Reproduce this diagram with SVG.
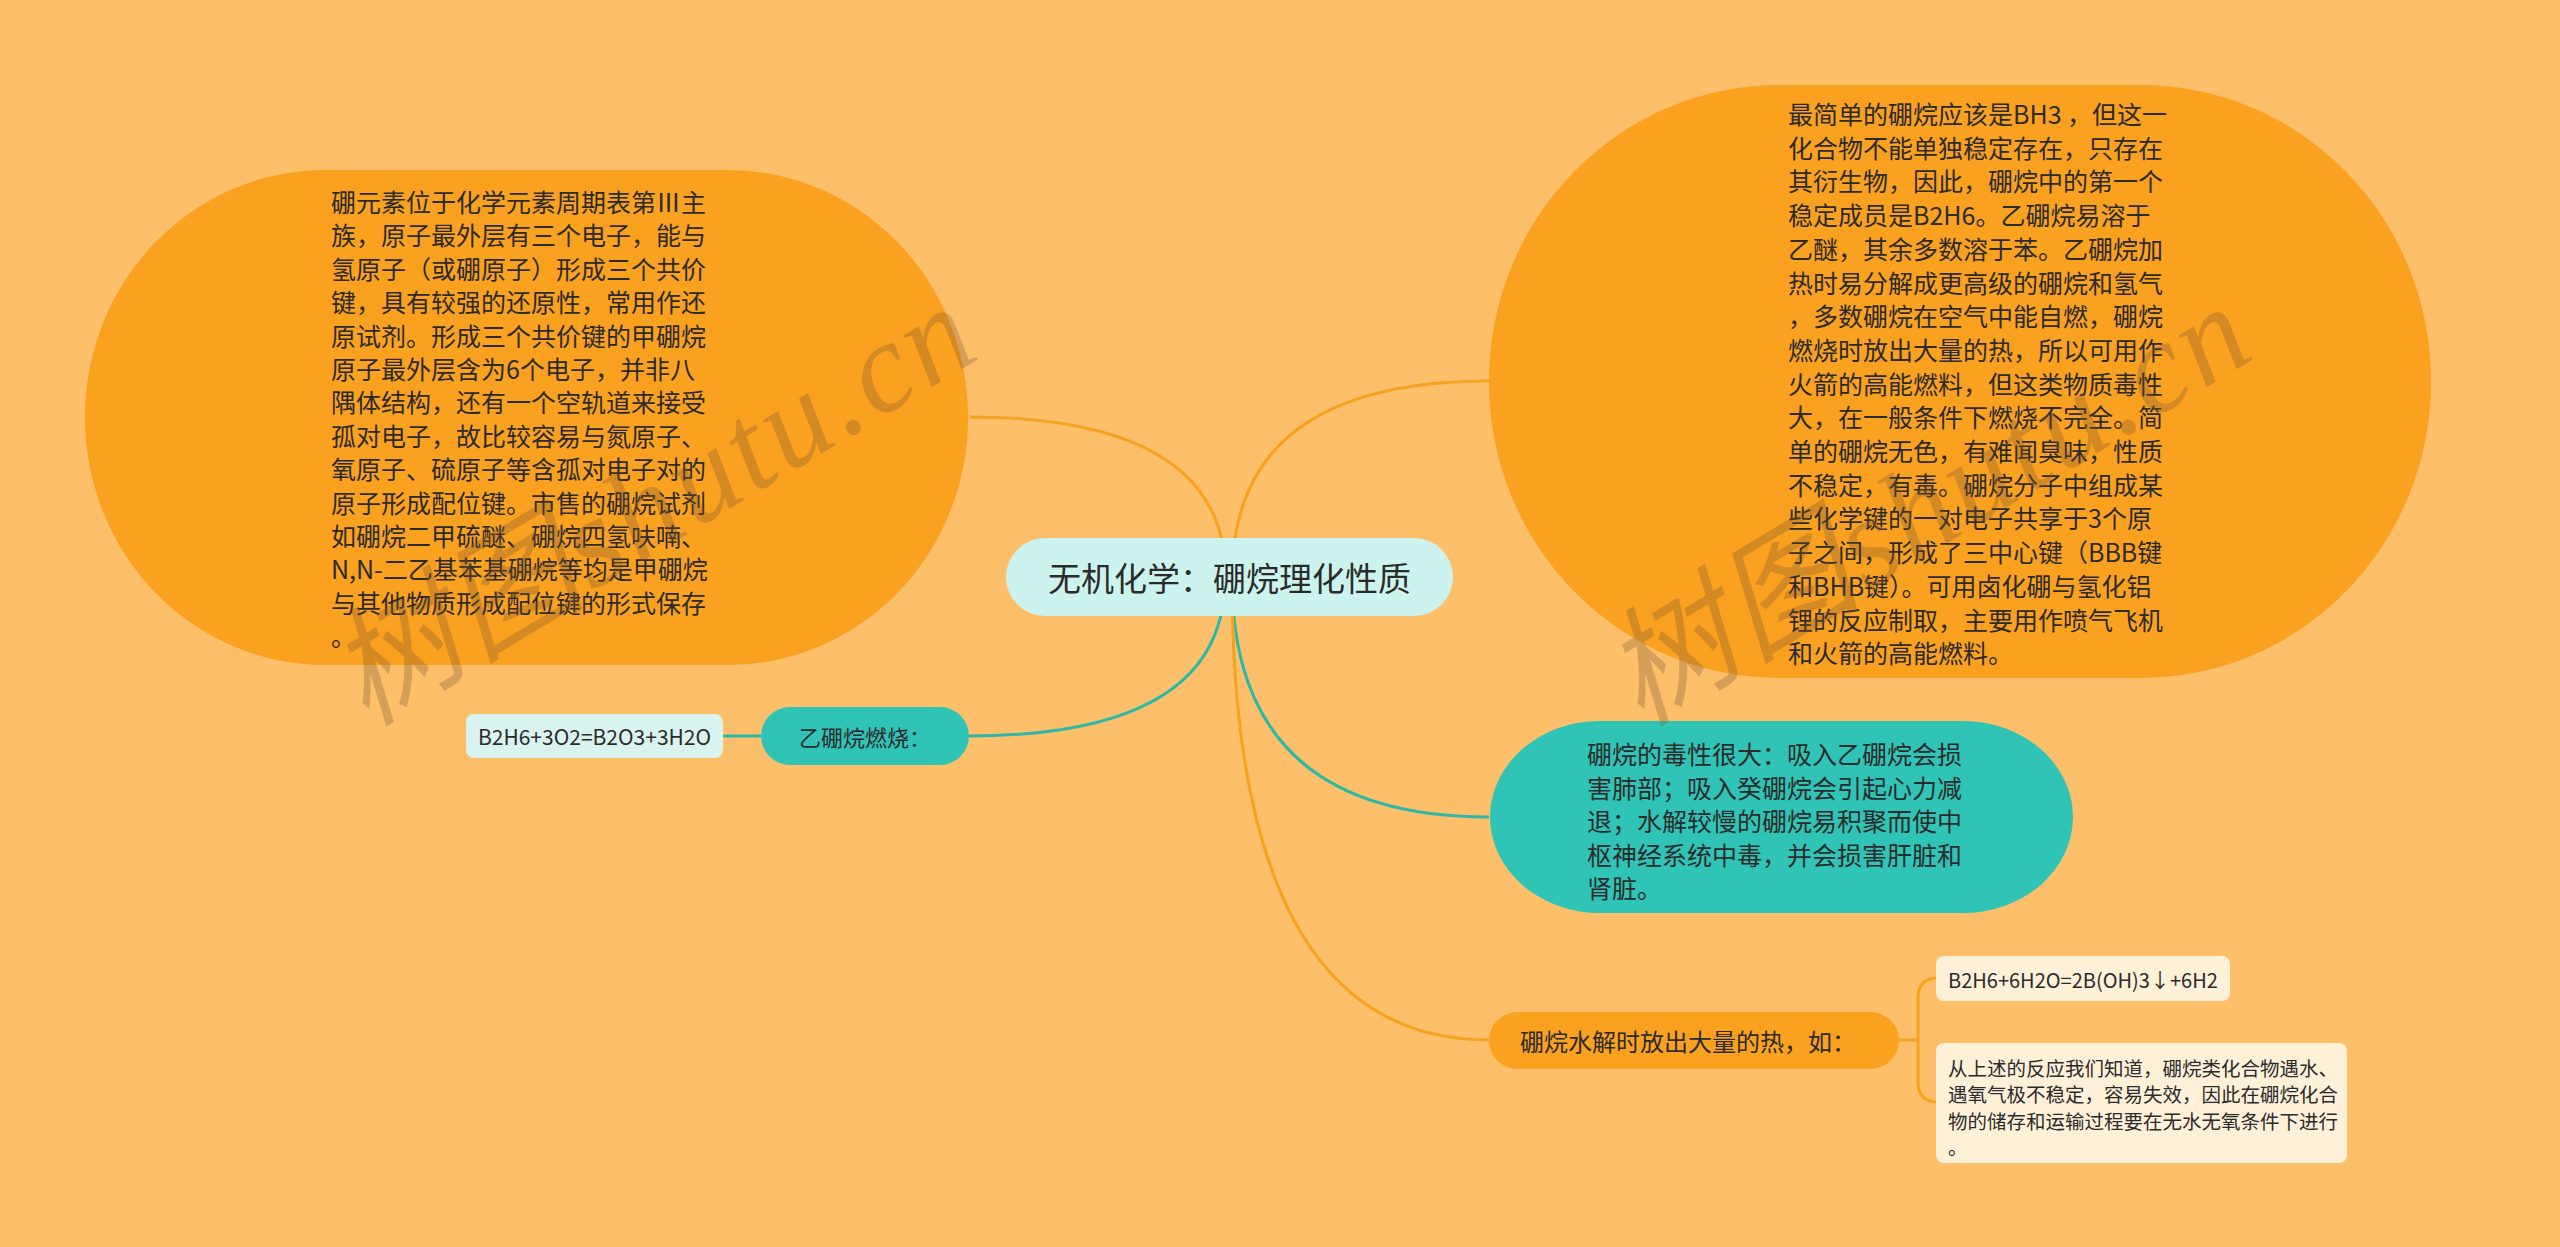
<svg xmlns="http://www.w3.org/2000/svg" width="2560" height="1247" viewBox="0 0 2560 1247">
<style>
text{font-family:"Noto Sans CJK SC","Noto Sans",sans-serif;fill:#2b2b2b;dominant-baseline:central}
.big{font-size:25px}
.small{font-size:19.5px}
.co{fill:none;stroke:#F7A21E;stroke-width:3}
.ct{fill:none;stroke:#2DB9A8;stroke-width:3}
.orange{fill:#FAA120}
.teal{fill:#2FC4B5}
.cream{fill:#FFF0D8}
.wm{font-family:"Liberation Serif","Noto Sans CJK SC",serif;font-style:italic;font-size:128px;fill:#7A5530;opacity:0.3}
</style>
<rect x="0" y="0" width="2560" height="1247" fill="#FEBF6B"/>
<g id="connectors">
<path class="co" d="M970 417 Q1226 417 1226 578"/>
<path class="co" d="M1489 381 Q1232 381 1232 578"/>
<path class="ct" d="M968 736 Q1225 736 1225 578"/>
<path class="ct" d="M1489 817 Q1232 817 1232 578"/>
<path class="co" d="M1489 1040 Q1232 1040 1232 578"/>
<path class="ct" d="M723 736 H761"/>
<path class="co" d="M1899 1040 H1918"/>
<path class="co" d="M1938 978 Q1918 978 1918 998 V1082 Q1918 1102 1938 1102"/>
</g>
<g id="node-left">
<rect class="orange" x="85" y="170" width="883" height="495" rx="240" ry="247"/>
<text class="big" x="331" y="201">硼元素位于化学元素周期表第Ⅲ主</text>
<text class="big" x="331" y="234.4">族，原子最外层有三个电子，能与</text>
<text class="big" x="331" y="267.8">氢原子（或硼原子）形成三个共价</text>
<text class="big" x="331" y="301.2">键，具有较强的还原性，常用作还</text>
<text class="big" x="331" y="334.6">原试剂。形成三个共价键的甲硼烷</text>
<text class="big" x="331" y="368">原子最外层含为6个电子，并非八</text>
<text class="big" x="331" y="401.4">隅体结构，还有一个空轨道来接受</text>
<text class="big" x="331" y="434.8">孤对电子，故比较容易与氮原子、</text>
<text class="big" x="331" y="468.2">氧原子、硫原子等含孤对电子对的</text>
<text class="big" x="331" y="501.6">原子形成配位键。市售的硼烷试剂</text>
<text class="big" x="331" y="535">如硼烷二甲硫醚、硼烷四氢呋喃、</text>
<text class="big" x="331" y="568.4">N,N-二乙基苯基硼烷等均是甲硼烷</text>
<text class="big" x="331" y="601.8">与其他物质形成配位键的形式保存</text>
<text class="big" x="331" y="635.2">。</text>
</g>
<g id="node-right">
<rect class="orange" x="1489" y="85" width="942" height="593" rx="290" ry="296"/>
<text class="big" x="1788" y="113">最简单的硼烷应该是BH3 ，但这一</text>
<text class="big" x="1788" y="146.7">化合物不能单独稳定存在，只存在</text>
<text class="big" x="1788" y="180.4">其衍生物，因此，硼烷中的第一个</text>
<text class="big" x="1788" y="214.1">稳定成员是B2H6。乙硼烷易溶于</text>
<text class="big" x="1788" y="247.8">乙醚，其余多数溶于苯。乙硼烷加</text>
<text class="big" x="1788" y="281.5">热时易分解成更高级的硼烷和氢气</text>
<text class="big" x="1788" y="315.2">，多数硼烷在空气中能自燃，硼烷</text>
<text class="big" x="1788" y="348.9">燃烧时放出大量的热，所以可用作</text>
<text class="big" x="1788" y="382.6">火箭的高能燃料，但这类物质毒性</text>
<text class="big" x="1788" y="416.3">大，在一般条件下燃烧不完全。简</text>
<text class="big" x="1788" y="450">单的硼烷无色，有难闻臭味，性质</text>
<text class="big" x="1788" y="483.7">不稳定，有毒。硼烷分子中组成某</text>
<text class="big" x="1788" y="517.4">些化学键的一对电子共享于3个原</text>
<text class="big" x="1788" y="551.1">子之间，形成了三中心键（BBB键</text>
<text class="big" x="1788" y="584.8">和BHB键）。可用卤化硼与氢化铝</text>
<text class="big" x="1788" y="618.5">锂的反应制取，主要用作喷气飞机</text>
<text class="big" x="1788" y="652.2">和火箭的高能燃料。</text>
</g>
<g id="node-center">
<rect x="1006" y="538" width="447" height="78" rx="39" fill="#CDF3EF"/>
<text x="1229.5" y="577" font-size="33" text-anchor="middle">无机化学：硼烷理化性质</text>
</g>
<g id="node-burn">
<rect class="teal" x="761" y="707" width="208" height="58" rx="29"/>
<text x="865" y="736" font-size="22" text-anchor="middle">乙硼烷燃烧：</text>
</g>
<g id="node-burn-eq">
<rect x="466" y="714" width="257" height="44" rx="8" fill="#D9F4F0"/>
<text x="594.5" y="736" font-size="21" text-anchor="middle">B2H6+3O2=B2O3+3H2O</text>
</g>
<g id="node-toxic">
<rect class="teal" x="1490" y="721" width="583" height="192" rx="110" ry="96"/>
<text class="big" x="1587" y="753">硼烷的毒性很大：吸入乙硼烷会损</text>
<text class="big" x="1587" y="786.5">害肺部；吸入癸硼烷会引起心力减</text>
<text class="big" x="1587" y="820">退；水解较慢的硼烷易积聚而使中</text>
<text class="big" x="1587" y="853.5">枢神经系统中毒，并会损害肝脏和</text>
<text class="big" x="1587" y="887">肾脏。</text>
</g>
<g id="node-hydrolysis">
<rect class="orange" x="1489" y="1012" width="410" height="57" rx="28.5"/>
<text x="1520" y="1040" font-size="24">硼烷水解时放出大量的热，如：</text>
</g>
<g id="node-hydro-eq">
<rect class="cream" x="1936" y="956" width="294" height="45" rx="8"/>
<text x="1948" y="979" font-size="20">B2H6+6H2O=2B(OH)3↓+6H2</text>
</g>
<g id="node-hydro-note">
<rect class="cream" x="1936" y="1043" width="411" height="120" rx="8"/>
<text class="small" x="1948" y="1067">从上述的反应我们知道，硼烷类化合物遇水、</text>
<text class="small" x="1948" y="1093.5">遇氧气极不稳定，容易失效，因此在硼烷化合</text>
<text class="small" x="1948" y="1120">物的储存和运输过程要在无水无氧条件下进行</text>
<text class="small" x="1948" y="1146.5">。</text>
</g>
<g id="watermarks">
<text class="wm" transform="translate(652 505) rotate(-31)" text-anchor="middle" textLength="720" lengthAdjust="spacing">树图shutu.cn</text>
<text class="wm" transform="translate(1927 505) rotate(-31)" text-anchor="middle" textLength="720" lengthAdjust="spacing">树图shutu.cn</text>
</g>
</svg>
